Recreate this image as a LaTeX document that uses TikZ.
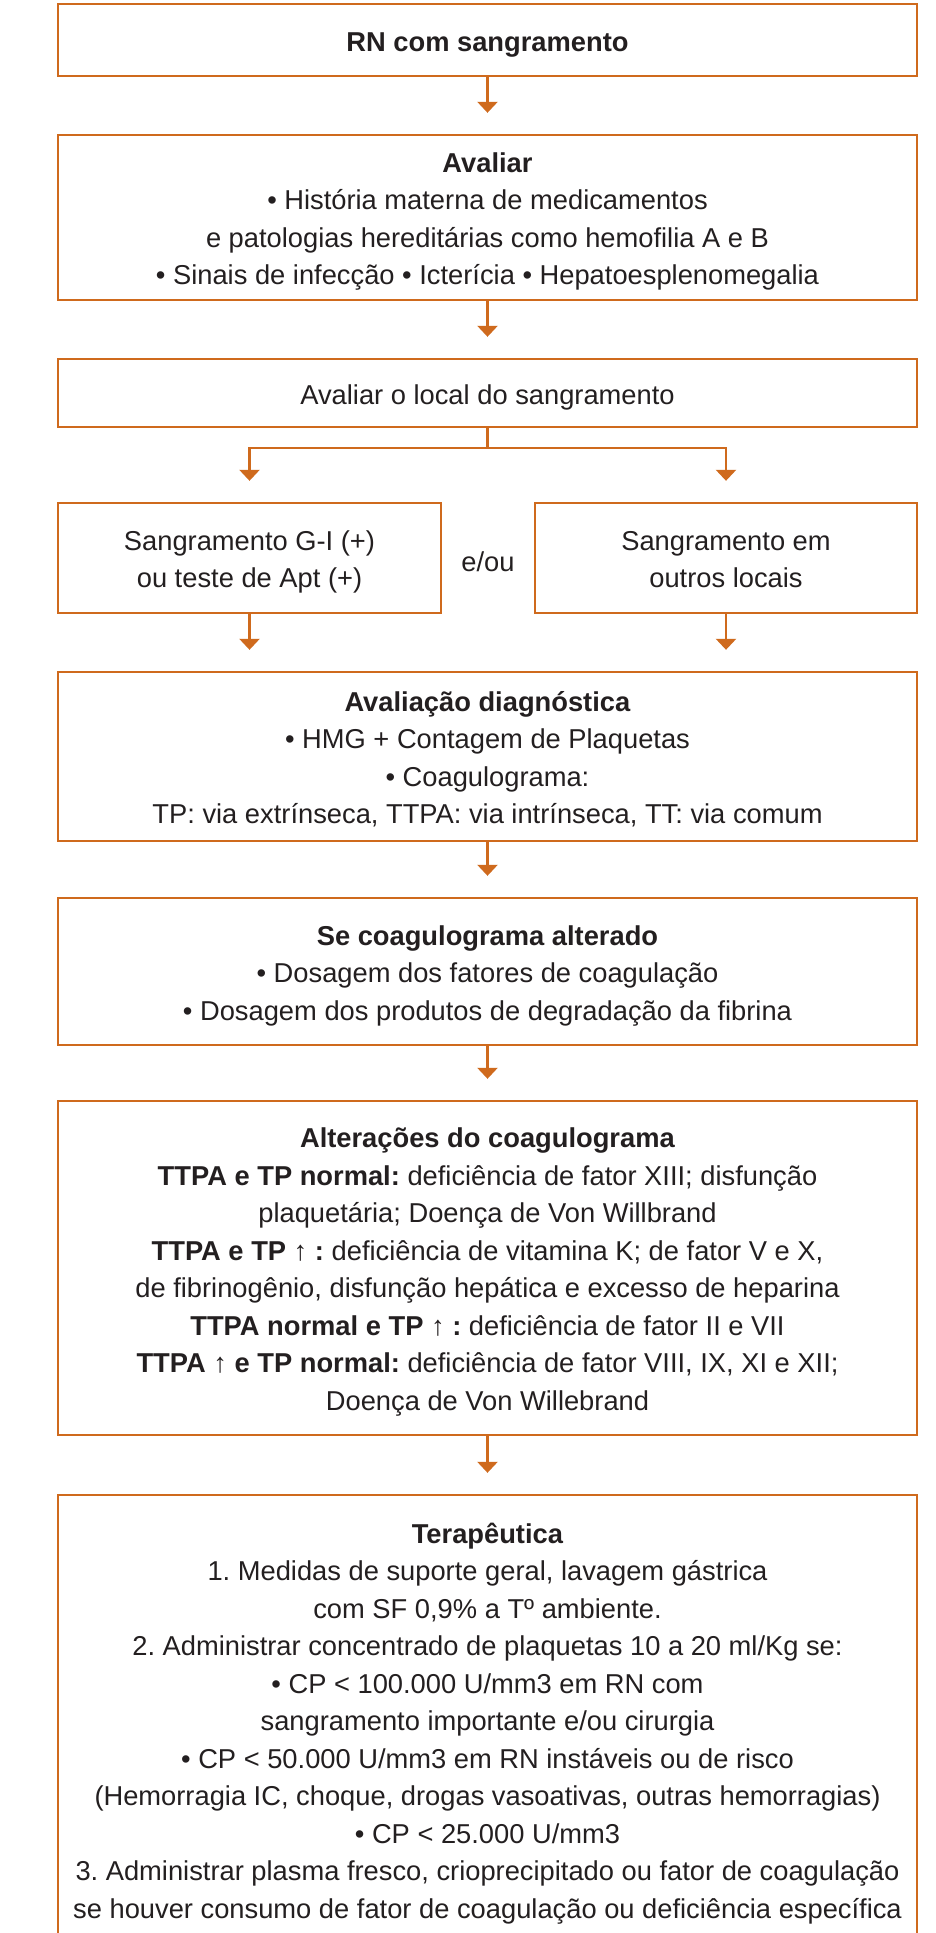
\documentclass[tikz,border=0pt]{standalone}
\usepackage{fontspec}
\setmainfont{Liberation Sans}
\usetikzlibrary{arrows.meta}
\definecolor{ocol}{RGB}{207,106,29}
\definecolor{tcol}{RGB}{35,31,32}
\newcommand{\fsz}{\fontsize{27.3}{37.5}\selectfont\frenchspacing}
\newcommand{\topst}{\rule{0pt}{28pt}}
\newcommand{\botst}{\rule[-6pt]{0pt}{0pt}}
\begin{document}
\begin{tikzpicture}[x=1pt,y=1pt,
  box/.style={draw=ocol,line width=2.4pt,align=center,inner sep=0pt,font=\fsz,text=tcol,minimum width=859pt},
  arr/.style={draw=ocol,line width=2.4pt,-{Triangle[width=20pt,length=11pt]},shorten >=21pt},
  lbl/.style={font=\fsz,text=tcol,inner sep=0pt,text depth=0pt}
]
\useasboundingbox (0,0) rectangle (935,-1933);
\fill[white] (0,0) rectangle (935,-1933);

\node[box,minimum height=72pt] (n1) at (487.5,-40) {\topst\textbf{RN com sangramento}\botst};

\node[box,minimum height=165pt] (n2) at (487.5,-217.5) {\topst\textbf{Avaliar}\\
• História materna de medicamentos\\
e patologias hereditárias como hemofilia A e B\\
• Sinais de infecção • Icterícia • Hepatoesplenomegalia\botst};

\node[box,minimum height=68pt] (n3) at (487.5,-393) {\topst Avaliar o local do sangramento\botst};

\node[box,minimum width=383pt,minimum height=110pt] (nl) at (249.5,-558) {\topst Sangramento G-I (+)\\ ou teste de Apt (+)\botst};
\node[box,minimum width=382pt,minimum height=110pt] (nr) at (726,-558) {\topst Sangramento em\\ outros locais\botst};
\node[lbl] (eou) at (488,-562) {e/ou};

\node[box,minimum height=169pt] (n4) at (487.5,-756.5) {\topst\textbf{Avaliação diagnóstica}\\
• HMG + Contagem de Plaquetas\\
• Coagulograma:\\
TP: via extrínseca, TTPA: via intrínseca, TT: via comum\botst};

\node[box,minimum height=147pt] (n5) at (487.5,-971.5) {\topst\textbf{Se coagulograma alterado}\\
• Dosagem dos fatores de coagulação\\
• Dosagem dos produtos de degradação da fibrina\botst};

\node[box,minimum height=334pt] (n6) at (487.5,-1268) {\topst\textbf{Alterações do coagulograma}\\
\textbf{TTPA e TP normal:} deficiência de fator XIII; disfunção\\
plaquetária; Doença de Von Willbrand\\
\textbf{TTPA e TP ↑ :} deficiência de vitamina K; de fator V e X,\\
de fibrinogênio, disfunção hepática e excesso de heparina\\
\textbf{TTPA normal e TP ↑ :} deficiência de fator II e VII\\
\textbf{TTPA ↑ e TP normal:} deficiência de fator VIII, IX, XI e XII;\\
Doença de Von Willebrand\botst};

\node[box,minimum height=449pt] (n7) at (487.5,-1719.5) {\topst\textbf{Terapêutica}\\
1. Medidas de suporte geral, lavagem gástrica\\
com SF 0,9\% a Tº ambiente.\\
2. Administrar concentrado de plaquetas 10 a 20 ml/Kg se:\\
• CP < 100.000 U/mm3 em RN com\\
sangramento importante e/ou cirurgia\\
• CP < 50.000 U/mm3 em RN instáveis ou de risco\\
(Hemorragia IC, choque, drogas vasoativas, outras hemorragias)\\
• CP < 25.000 U/mm3\\
3. Administrar plasma fresco, crioprecipitado ou fator de coagulação\\
se houver consumo de fator de coagulação ou deficiência específica\botst};

\draw[arr] (n1.south) -- (n2.north);
\draw[arr] (n2.south) -- (n3.north);
\draw[arr] (n3.south) -- ++(0,-20) -| (nl.north);
\draw[arr] (n3.south) -- ++(0,-20) -| (nr.north);
\draw[arr] (nl.south) -- (nl.south |- n4.north);
\draw[arr] (nr.south) -- (nr.south |- n4.north);
\draw[arr] (n4.south) -- (n5.north);
\draw[arr] (n5.south) -- (n6.north);
\draw[arr] (n6.south) -- (n7.north);
\end{tikzpicture}
\end{document}
